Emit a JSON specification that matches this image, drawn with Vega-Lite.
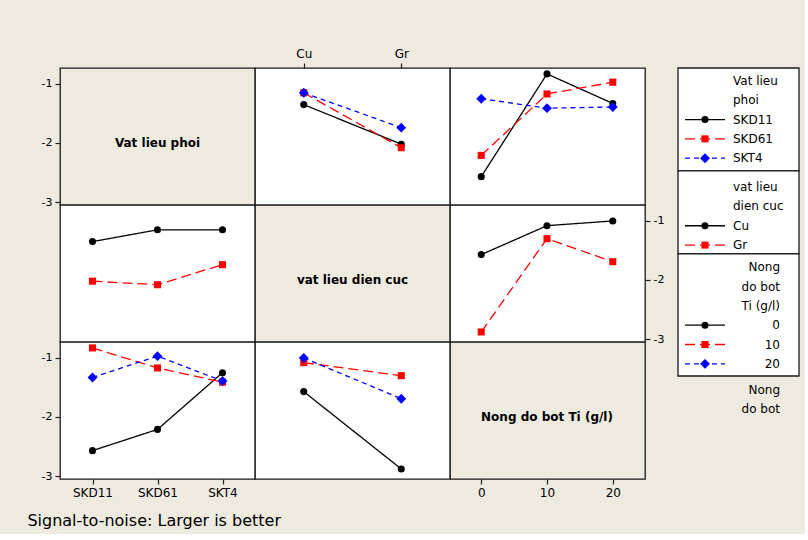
{
  "$schema": "https://vega.github.io/schema/vega-lite/v6.json",
  "background": "#EEEAE0",
  "padding": {"left": 27, "top": 46, "right": 5, "bottom": 5},
  "autosize": {"type": "pad"},
  "title": {"text": "Signal-to-noise: Larger is better", "orient": "bottom", "anchor": "start", "font": "DejaVu Sans", "fontSize": 16, "fontWeight": "normal", "color": "black", "offset": 14, "dx": -13},
  "datasets": {
    "pd": [
      {"phoi": "SKD11", "dien": "Cu", "sn": -1.35},
      {"phoi": "SKD11", "dien": "Gr", "sn": -2.02},
      {"phoi": "SKD61", "dien": "Cu", "sn": -1.15},
      {"phoi": "SKD61", "dien": "Gr", "sn": -2.08},
      {"phoi": "SKT4", "dien": "Cu", "sn": -1.15},
      {"phoi": "SKT4", "dien": "Gr", "sn": -1.74}
    ],
    "pn": [
      {"phoi": "SKD11", "nong": 0, "sn": -2.57},
      {"phoi": "SKD11", "nong": 10, "sn": -0.83},
      {"phoi": "SKD11", "nong": 20, "sn": -1.33},
      {"phoi": "SKD61", "nong": 0, "sn": -2.21},
      {"phoi": "SKD61", "nong": 10, "sn": -1.17},
      {"phoi": "SKD61", "nong": 20, "sn": -0.97},
      {"phoi": "SKT4", "nong": 0, "sn": -1.25},
      {"phoi": "SKT4", "nong": 10, "sn": -1.41},
      {"phoi": "SKT4", "nong": 20, "sn": -1.39}
    ],
    "dn": [
      {"dien": "Cu", "nong": 0, "sn": -1.57},
      {"dien": "Cu", "nong": 10, "sn": -1.08},
      {"dien": "Cu", "nong": 20, "sn": -1.0},
      {"dien": "Gr", "nong": 0, "sn": -2.88},
      {"dien": "Gr", "nong": 10, "sn": -1.3},
      {"dien": "Gr", "nong": 20, "sn": -1.69}
    ],
    "legend": [
      {"section": 1, "line": 0, "label": "Vat lieu"},
      {"section": 1, "line": 1, "label": "phoi"},
      {"section": 1, "line": 2, "label": "SKD11", "item": 1},
      {"section": 1, "line": 3, "label": "SKD61", "item": 2},
      {"section": 1, "line": 4, "label": "SKT4", "item": 3},
      {"section": 2, "line": 5.5, "label": "vat lieu"},
      {"section": 2, "line": 6.5, "label": "dien cuc"},
      {"section": 2, "line": 7.5, "label": "Cu", "item": 1},
      {"section": 2, "line": 8.5, "label": "Gr", "item": 2},
      {"section": 3, "line": 9.65, "label": "Nong"},
      {"section": 3, "line": 10.65, "label": "do bot"},
      {"section": 3, "line": 11.65, "label": "Ti (g/l)"},
      {"section": 3, "line": 12.65, "label": "0", "item": 1},
      {"section": 3, "line": 13.65, "label": "10", "item": 2},
      {"section": 3, "line": 14.65, "label": "20", "item": 3},
      {"section": 4, "line": 16, "label": "Nong"},
      {"section": 4, "line": 17, "label": "do bot"}
    ],
    "legendBoxes": [
      {"section": 1, "top": -0.67, "bottom": 4.66},
      {"section": 2, "top": 4.66, "bottom": 8.96},
      {"section": 3, "top": 8.96, "bottom": 15.28}
    ]
  },
  "columns": 4,
  "spacing": 0,
  "bounds": "flush",
  "align": "all",
  "resolve": {"scale": {"color": "independent", "shape": "independent", "strokeDash": "independent", "x": "independent", "y": "independent"}},
  "concat": [
    {
      "width": 195, "height": 137,
      "view": {"fill": "#EEEAE0"},
      "data": {"values": [{"label": "Vat lieu phoi"}]},
      "mark": {"type": "text", "font": "DejaVu Sans", "fontSize": 12, "fontWeight": "bold", "baseline": "middle", "color": "black"},
      "encoding": {
        "text": {"field": "label"},
        "y": {"datum": -2, "type": "quantitative", "title": null, "scale": {"domain": [-3.05, -0.73], "nice": false, "zero": false}, "axis": {"orient": "left", "values": [-1, -2, -3], "labelExpr": "'' + datum.value"}}
      }
    },
    {
      "width": 195, "height": 137,
      "view": {"fill": "white"},
      "data": {"name": "pd"},
      "encoding": {
        "x": {"field": "dien", "type": "nominal", "title": null, "scale": {"type": "point", "padding": 0.5, "domain": ["Cu", "Gr"]}, "axis": {"orient": "top", "labelFontSize": 12, "labelAngle": 0}},
        "y": {"field": "sn", "type": "quantitative", "title": null, "scale": {"domain": [-3.05, -0.73], "nice": false, "zero": false}, "axis": null}
      },
      "layer": [
        {"mark": {"type": "line", "strokeWidth": 1.3}, "encoding": {
          "color": {"field": "phoi", "type": "nominal", "scale": {"domain": ["SKD11", "SKD61", "SKT4"], "range": ["black", "#ff0000", "#0000ff"]}, "legend": null},
          "strokeDash": {"field": "phoi", "type": "nominal", "scale": {"domain": ["SKD11", "SKD61", "SKT4"], "range": [[1, 0], [10, 5], [5, 4]]}, "legend": null}}},
        {"mark": {"type": "point", "filled": true, "opacity": 1, "size": 50}, "encoding": {
          "color": {"field": "phoi", "type": "nominal", "scale": {"domain": ["SKD11", "SKD61", "SKT4"], "range": ["black", "#ff0000", "#0000ff"]}, "legend": null},
          "shape": {"field": "phoi", "type": "nominal", "scale": {"domain": ["SKD11", "SKD61", "SKT4"], "range": ["circle", "square", "M-1.4,0L0,-1.4L1.4,0L0,1.4Z"]}, "legend": null}}}
      ]
    },
    {
      "width": 195, "height": 137,
      "view": {"fill": "white"},
      "data": {"name": "pn"},
      "encoding": {
        "x": {"field": "nong", "type": "quantitative", "title": null, "scale": {"domain": [-4.75, 24.9], "nice": false, "zero": false}, "axis": null},
        "y": {"field": "sn", "type": "quantitative", "title": null, "scale": {"domain": [-3.05, -0.73], "nice": false, "zero": false}, "axis": null}
      },
      "layer": [
        {"mark": {"type": "line", "strokeWidth": 1.3}, "encoding": {
          "color": {"field": "phoi", "type": "nominal", "scale": {"domain": ["SKD11", "SKD61", "SKT4"], "range": ["black", "#ff0000", "#0000ff"]}, "legend": null},
          "strokeDash": {"field": "phoi", "type": "nominal", "scale": {"domain": ["SKD11", "SKD61", "SKT4"], "range": [[1, 0], [10, 5], [5, 4]]}, "legend": null}}},
        {"mark": {"type": "point", "filled": true, "opacity": 1, "size": 50}, "encoding": {
          "color": {"field": "phoi", "type": "nominal", "scale": {"domain": ["SKD11", "SKD61", "SKT4"], "range": ["black", "#ff0000", "#0000ff"]}, "legend": null},
          "shape": {"field": "phoi", "type": "nominal", "scale": {"domain": ["SKD11", "SKD61", "SKT4"], "range": ["circle", "square", "M-1.4,0L0,-1.4L1.4,0L0,1.4Z"]}, "legend": null}}}
      ]
    },
    {
      "width": 154, "height": 137,
      "view": {"stroke": null, "fill": null},
      "layer": [
        {
          "data": {"name": "legendBoxes"},
          "mark": {"type": "rect", "fill": "white", "stroke": "#1a1a1a", "strokeWidth": 1.3},
          "encoding": {
            "x": {"datum": 33, "type": "quantitative", "scale": {"domain": [0, 154], "nice": false, "zero": false}, "axis": null},
            "x2": {"datum": 154},
            "y": {"field": "top", "type": "quantitative", "scale": {"domain": [-0.67, 15.28], "range": [0, 308], "nice": false, "zero": false}, "axis": null},
            "y2": {"field": "bottom"}
          }
        },
        {
          "data": {"name": "legend"},
          "transform": [{"filter": "isValid(datum.item)"}],
          "mark": {"type": "rule", "strokeWidth": 1.3},
          "encoding": {
            "x": {"datum": 40, "type": "quantitative", "scale": {"domain": [0, 154], "nice": false, "zero": false}, "axis": null},
            "x2": {"datum": 80},
            "y": {"field": "line", "type": "quantitative", "scale": {"domain": [-0.67, 15.28], "range": [0, 308], "nice": false, "zero": false}, "axis": null},
            "color": {"field": "item", "type": "nominal", "scale": {"domain": [1, 2, 3], "range": ["black", "#ff0000", "#0000ff"]}, "legend": null},
            "strokeDash": {"field": "item", "type": "nominal", "scale": {"domain": [1, 2, 3], "range": [[1, 0], [10, 5], [5, 4]]}, "legend": null}
          }
        },
        {
          "data": {"name": "legend"},
          "transform": [{"filter": "isValid(datum.item)"}],
          "mark": {"type": "point", "filled": true, "opacity": 1, "size": 50},
          "encoding": {
            "x": {"datum": 60, "type": "quantitative", "scale": {"domain": [0, 154], "nice": false, "zero": false}, "axis": null},
            "y": {"field": "line", "type": "quantitative", "scale": {"domain": [-0.67, 15.28], "range": [0, 308], "nice": false, "zero": false}, "axis": null},
            "color": {"field": "item", "type": "nominal", "scale": {"domain": [1, 2, 3], "range": ["black", "#ff0000", "#0000ff"]}, "legend": null},
            "shape": {"field": "item", "type": "nominal", "scale": {"domain": [1, 2, 3], "range": ["circle", "square", "M-1.4,0L0,-1.4L1.4,0L0,1.4Z"]}, "legend": null}
          }
        },
        {
          "data": {"name": "legend"},
          "transform": [{"filter": "datum.section <= 2"}],
          "mark": {"type": "text", "font": "DejaVu Sans", "fontSize": 12, "align": "left", "baseline": "middle", "color": "black"},
          "encoding": {
            "x": {"datum": 88, "type": "quantitative", "scale": {"domain": [0, 154], "nice": false, "zero": false}, "axis": null},
            "y": {"field": "line", "type": "quantitative", "scale": {"domain": [-0.67, 15.28], "range": [0, 308], "nice": false, "zero": false}, "axis": null},
            "text": {"field": "label"}
          }
        },
        {
          "data": {"name": "legend"},
          "transform": [{"filter": "datum.section >= 3"}],
          "mark": {"type": "text", "font": "DejaVu Sans", "fontSize": 12, "align": "right", "baseline": "middle", "color": "black"},
          "encoding": {
            "x": {"datum": 135, "type": "quantitative", "scale": {"domain": [0, 154], "nice": false, "zero": false}, "axis": null},
            "y": {"field": "line", "type": "quantitative", "scale": {"domain": [-0.67, 15.28], "range": [0, 308], "nice": false, "zero": false}, "axis": null},
            "text": {"field": "label"}
          }
        }
      ]
    },
    {
      "width": 195, "height": 137,
      "view": {"fill": "white"},
      "data": {"name": "pd"},
      "encoding": {
        "x": {"field": "phoi", "type": "nominal", "title": null, "scale": {"type": "point", "padding": 0.5, "domain": ["SKD11", "SKD61", "SKT4"]}, "axis": null},
        "y": {"field": "sn", "type": "quantitative", "title": null, "scale": {"domain": [-3.05, -0.73], "nice": false, "zero": false}, "axis": null}
      },
      "layer": [
        {"mark": {"type": "line", "strokeWidth": 1.3}, "encoding": {
          "color": {"field": "dien", "type": "nominal", "scale": {"domain": ["Cu", "Gr"], "range": ["black", "#ff0000"]}, "legend": null},
          "strokeDash": {"field": "dien", "type": "nominal", "scale": {"domain": ["Cu", "Gr"], "range": [[1, 0], [10, 5]]}, "legend": null}}},
        {"mark": {"type": "point", "filled": true, "opacity": 1, "size": 50}, "encoding": {
          "color": {"field": "dien", "type": "nominal", "scale": {"domain": ["Cu", "Gr"], "range": ["black", "#ff0000"]}, "legend": null},
          "shape": {"field": "dien", "type": "nominal", "scale": {"domain": ["Cu", "Gr"], "range": ["circle", "square"]}, "legend": null}}}
      ]
    },
    {
      "width": 195, "height": 137,
      "view": {"fill": "#EEEAE0"},
      "data": {"values": [{"label": "vat lieu dien cuc"}]},
      "mark": {"type": "text", "font": "DejaVu Sans", "fontSize": 12, "fontWeight": "bold", "baseline": "middle", "color": "black"},
      "encoding": {
        "text": {"field": "label"},
        "y": {"datum": -2, "type": "quantitative", "title": null, "scale": {"domain": [-3.05, -0.73], "nice": false, "zero": false}, "axis": null}
      }
    },
    {
      "width": 195, "height": 137,
      "view": {"fill": "white"},
      "data": {"name": "dn"},
      "encoding": {
        "x": {"field": "nong", "type": "quantitative", "title": null, "scale": {"domain": [-4.75, 24.9], "nice": false, "zero": false}, "axis": null},
        "y": {"field": "sn", "type": "quantitative", "title": null, "scale": {"domain": [-3.05, -0.73], "nice": false, "zero": false}, "axis": {"orient": "right", "values": [-1, -2, -3], "labelExpr": "'' + datum.value"}}
      },
      "layer": [
        {"mark": {"type": "line", "strokeWidth": 1.3}, "encoding": {
          "color": {"field": "dien", "type": "nominal", "scale": {"domain": ["Cu", "Gr"], "range": ["black", "#ff0000"]}, "legend": null},
          "strokeDash": {"field": "dien", "type": "nominal", "scale": {"domain": ["Cu", "Gr"], "range": [[1, 0], [10, 5]]}, "legend": null}}},
        {"mark": {"type": "point", "filled": true, "opacity": 1, "size": 50}, "encoding": {
          "color": {"field": "dien", "type": "nominal", "scale": {"domain": ["Cu", "Gr"], "range": ["black", "#ff0000"]}, "legend": null},
          "shape": {"field": "dien", "type": "nominal", "scale": {"domain": ["Cu", "Gr"], "range": ["circle", "square"]}, "legend": null}}}
      ]
    },
    {
      "width": 154, "height": 137,
      "view": {"stroke": null, "fill": null},
      "data": {"values": [{"label": ""}]},
      "mark": {"type": "text"},
      "encoding": {"text": {"field": "label"}}
    },
    {
      "width": 195, "height": 137,
      "view": {"fill": "white"},
      "data": {"name": "pn"},
      "encoding": {
        "x": {"field": "phoi", "type": "nominal", "title": null, "scale": {"type": "point", "padding": 0.5, "domain": ["SKD11", "SKD61", "SKT4"]}, "axis": {"orient": "bottom", "labelFontSize": 12, "labelAngle": 0}},
        "y": {"field": "sn", "type": "quantitative", "title": null, "scale": {"domain": [-3.05, -0.73], "nice": false, "zero": false}, "axis": {"orient": "left", "values": [-1, -2, -3], "labelExpr": "'' + datum.value"}}
      },
      "layer": [
        {"mark": {"type": "line", "strokeWidth": 1.3}, "encoding": {
          "color": {"field": "nong", "type": "nominal", "scale": {"domain": [0, 10, 20], "range": ["black", "#ff0000", "#0000ff"]}, "legend": null},
          "strokeDash": {"field": "nong", "type": "nominal", "scale": {"domain": [0, 10, 20], "range": [[1, 0], [10, 5], [5, 4]]}, "legend": null}}},
        {"mark": {"type": "point", "filled": true, "opacity": 1, "size": 50}, "encoding": {
          "color": {"field": "nong", "type": "nominal", "scale": {"domain": [0, 10, 20], "range": ["black", "#ff0000", "#0000ff"]}, "legend": null},
          "shape": {"field": "nong", "type": "nominal", "scale": {"domain": [0, 10, 20], "range": ["circle", "square", "M-1.4,0L0,-1.4L1.4,0L0,1.4Z"]}, "legend": null}}}
      ]
    },
    {
      "width": 195, "height": 137,
      "view": {"fill": "white"},
      "data": {"name": "dn"},
      "encoding": {
        "x": {"field": "dien", "type": "nominal", "title": null, "scale": {"type": "point", "padding": 0.5, "domain": ["Cu", "Gr"]}, "axis": null},
        "y": {"field": "sn", "type": "quantitative", "title": null, "scale": {"domain": [-3.05, -0.73], "nice": false, "zero": false}, "axis": null}
      },
      "layer": [
        {"mark": {"type": "line", "strokeWidth": 1.3}, "encoding": {
          "color": {"field": "nong", "type": "nominal", "scale": {"domain": [0, 10, 20], "range": ["black", "#ff0000", "#0000ff"]}, "legend": null},
          "strokeDash": {"field": "nong", "type": "nominal", "scale": {"domain": [0, 10, 20], "range": [[1, 0], [10, 5], [5, 4]]}, "legend": null}}},
        {"mark": {"type": "point", "filled": true, "opacity": 1, "size": 50}, "encoding": {
          "color": {"field": "nong", "type": "nominal", "scale": {"domain": [0, 10, 20], "range": ["black", "#ff0000", "#0000ff"]}, "legend": null},
          "shape": {"field": "nong", "type": "nominal", "scale": {"domain": [0, 10, 20], "range": ["circle", "square", "M-1.4,0L0,-1.4L1.4,0L0,1.4Z"]}, "legend": null}}}
      ]
    },
    {
      "width": 195, "height": 137,
      "view": {"fill": "#EEEAE0"},
      "data": {"values": [{"label": "Nong do bot Ti (g/l)"}]},
      "mark": {"type": "text", "font": "DejaVu Sans", "fontSize": 12, "fontWeight": "bold", "baseline": "middle", "color": "black"},
      "encoding": {
        "text": {"field": "label"},
        "x": {"datum": 10, "type": "quantitative", "title": null, "scale": {"domain": [-4.75, 24.9], "nice": false, "zero": false}, "axis": {"orient": "bottom", "values": [0, 10, 20], "labelFontSize": 12}},
        "y": {"datum": -2, "type": "quantitative", "title": null, "scale": {"domain": [-3.05, -0.73], "nice": false, "zero": false}, "axis": null}
      }
    }
  ],
  "config": {
    "font": "DejaVu Sans",
    "view": {"stroke": "#1a1a1a", "strokeWidth": 1.3},
    "axis": {"domain": false, "grid": false, "ticks": true, "tickColor": "#222222", "tickSize": 5, "tickWidth": 1.2, "labelColor": "black", "labelFont": "DejaVu Sans", "labelFontSize": 11, "labelPadding": 3}
  }
}
